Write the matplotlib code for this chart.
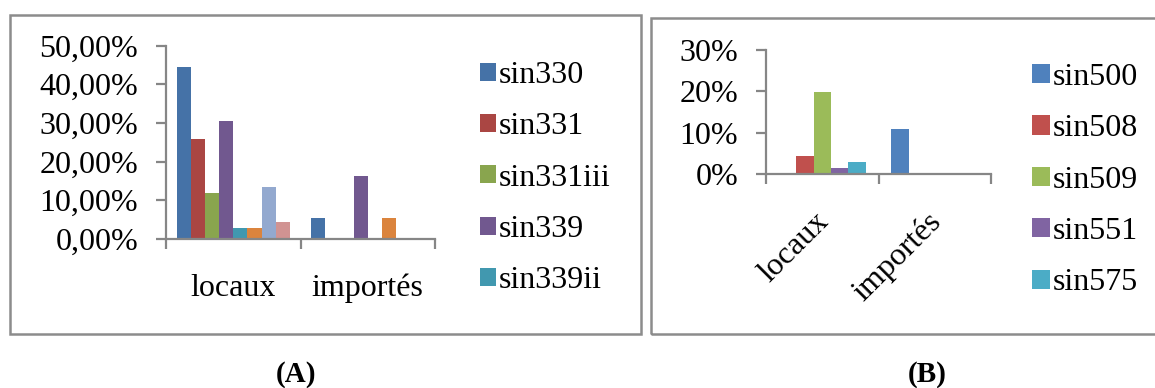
import numpy as np
import matplotlib.pyplot as plt
from matplotlib.patches import Patch, Rectangle
from matplotlib.ticker import FixedLocator, FuncFormatter
from matplotlib.transforms import ScaledTranslation

plt.rcParams['font.family'] = ['Liberation Serif', 'DejaVu Serif']

categories = ["locaux", "importés"]

# (A) eight series, only the first five are listed in the legend
series_a = ["sin330", "sin331", "sin331iii", "sin339", "sin339ii"]
sin330 = [44.5, 5.3]
sin331 = [25.8, 0.0]
sin331iii = [11.9, 0.0]
sin339 = [30.5, 16.4]
sin339ii = [2.9, 0.0]
serie6 = [2.8, 5.3]
serie7 = [13.5, 0.0]
serie8 = [4.5, 0.0]
values_a = [sin330, sin331, sin331iii, sin339, sin339ii, serie6, serie7, serie8]
colors_a = ["#4572A7", "#AA4643", "#89A54E", "#71588F",
            "#4198AF", "#DB843D", "#93A9CF", "#D19392"]

# (B)
series_b = ["sin500", "sin508", "sin509", "sin551", "sin575"]
sin500 = [0.0, 11.0]
sin508 = [4.4, 0.0]
sin509 = [19.8, 0.0]
sin551 = [1.5, 0.0]
sin575 = [3.0, 0.0]
values_b = [sin500, sin508, sin509, sin551, sin575]
colors_b = ["#4F81BD", "#C0504D", "#9BBB59", "#8064A2", "#4BACC6"]

GRAY = "#868686"
FS = 23
W, H = 1155, 388
fig = plt.figure(figsize=(W / 100, H / 100), dpi=100)


def px_axes(x0, x1, y_top, y_bot):
    return fig.add_axes([x0 / W, 1 - y_bot / H, (x1 - x0) / W, (y_bot - y_top) / H])


def grouped_bars(ax, values, colors):
    # excel style clustered bars, gap width 150%
    n = len(values)
    w = 1.0 / (n + 1.5)
    x = np.arange(len(categories))
    for i, (vals, c) in enumerate(zip(values, colors)):
        ax.bar(x - 0.5 + 0.75 * w + (i + 0.5) * w, vals, width=w, color=c, linewidth=0)


def style_axes(ax, ymax, step, fmt):
    ax.set_xlim(-0.5, len(categories) - 0.5)
    ax.set_ylim(0, ymax)
    for s in ["top", "right"]:
        ax.spines[s].set_visible(False)
    for s in ["left", "bottom"]:
        ax.spines[s].set_color(GRAY)
        ax.spines[s].set_linewidth(1.6)
    ax.yaxis.set_major_locator(FixedLocator(np.arange(0, ymax + step / 2, step)))
    ax.yaxis.set_major_formatter(FuncFormatter(fmt))
    ax.set_xticks(np.arange(len(categories) + 1) - 0.5)
    ax.set_xticklabels([])
    ax.tick_params(axis="both", which="major", direction="out", length=7,
                   width=1.6, color=GRAY, labelsize=FS, pad=13)


# ---- panel A ----
ax_a = px_axes(166, 435, 45.5, 239)
grouped_bars(ax_a, values_a, colors_a)
style_axes(ax_a, 50, 10, lambda v, p: f"{v:.2f}".replace(".", ",") + "%")
ax_a.set_xticks(np.arange(len(categories)), minor=True)
ax_a.set_xticklabels(categories, minor=True)
ax_a.tick_params(axis="x", which="minor", length=0, labelsize=FS, pad=25)

fig.legend([Patch(facecolor=c, edgecolor="none") for c in colors_a[:5]], series_a,
           loc="upper left", bbox_to_anchor=(480 / W, 1 - 61 / H), frameon=False,
           fontsize=FS, handlelength=0.5, handleheight=0.5, handletextpad=0.1,
           labelspacing=0.7, borderpad=0, borderaxespad=0)

# ---- panel B ----
ax_b = px_axes(766, 991, 50, 174)
grouped_bars(ax_b, values_b, colors_b)
style_axes(ax_b, 30, 10, lambda v, p: f"{v:.0f}%")
offset = ScaledTranslation(2 / 100, -43 / 100, fig.dpi_scale_trans)
for i, cat in enumerate(categories):
    ax_b.text(i, 0, cat, transform=ax_b.get_xaxis_transform() + offset,
              rotation=45, rotation_mode="anchor", ha="right", va="center", fontsize=FS)

fig.legend([Patch(facecolor=c, edgecolor="none") for c in colors_b], series_b,
           loc="upper left", bbox_to_anchor=(1032 / W, 1 - 63 / H), frameon=False,
           fontsize=FS, handlelength=0.55, handleheight=0.55, handletextpad=0.1,
           labelspacing=0.7, borderpad=0, borderaxespad=0)

# panel frames
fig.add_artist(Rectangle((10 / W, 1 - 334 / H), 631 / W, 319 / H, transform=fig.transFigure,
                         fill=False, edgecolor="#8c8c8c", linewidth=1.8))
fig.add_artist(Rectangle((651 / W, 1 - 334 / H), 520 / W, 316 / H, transform=fig.transFigure,
                         fill=False, edgecolor="#8c8c8c", linewidth=1.8))

fig.text(296 / W, 1 - 375 / H, "(A)", ha="center", va="center", fontsize=21, fontweight="bold")
fig.text(927 / W, 1 - 375 / H, "(B)", ha="center", va="center", fontsize=21, fontweight="bold")

fig.savefig("out.png", dpi=100)
